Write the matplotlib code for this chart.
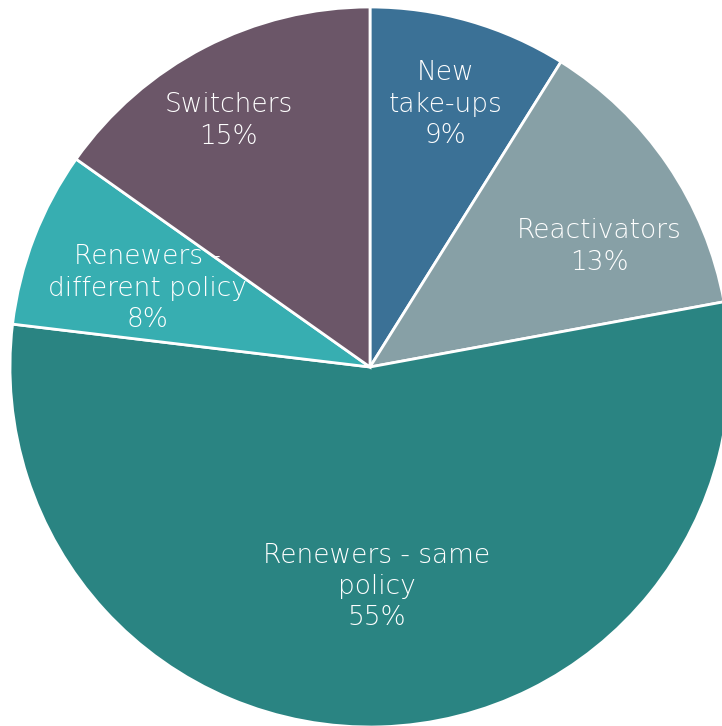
import numpy as np
import matplotlib.pyplot as plt

categories = ['New\ntake-ups', 'Reactivators', 'Renewers - same\npolicy',
              'Renewers -\ndifferent policy', 'Switchers']
shares = [8.9, 13.2, 54.8, 7.9, 15.2]
pct_labels = ['9%', '13%', '55%', '8%', '15%']
colors = ['#3B7196', '#87A0A6', '#2A8482', '#37AEB1', '#6B5668']

# label placement (radius as fraction, angle shift in degrees)
label_r = [0.76, 0.72, 0.61, 0.655, 0.79]
label_shift = [0, -6.5, 0, 1.5, 2.5]

plt.rcParams['font.family'] = ['DejaVu Sans']

fig = plt.figure(figsize=(7.22, 7.26), dpi=100)
ax = fig.add_axes([0, 0, 1, 1])

wedges, _ = ax.pie(shares, colors=colors, startangle=90, counterclock=False,
                   wedgeprops=dict(edgecolor='white', linewidth=2))

for w, cat, pct, r, sh in zip(wedges, categories, pct_labels, label_r, label_shift):
    ang = np.deg2rad((w.theta1 + w.theta2) / 2 + sh)
    ax.text(r * np.cos(ang), r * np.sin(ang), cat + '\n' + pct,
            ha='center', va='center', color='white', fontsize=19,
            fontweight='light', linespacing=1.32)

ax.set_xlim(-370 / 360, 352 / 360)
ax.set_ylim(-359 / 360, 367 / 360)
ax.set_aspect('equal')
ax.axis('off')

plt.savefig('out.png')
